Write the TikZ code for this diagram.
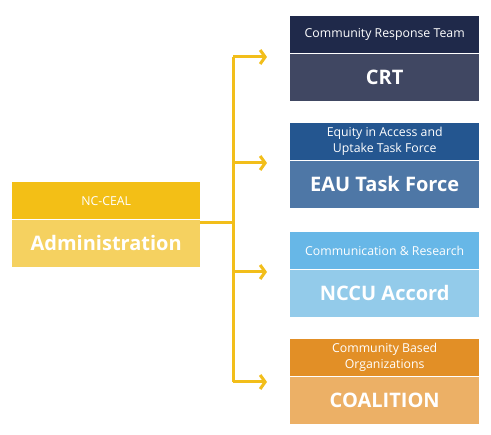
\documentclass[tikz,border=0pt]{standalone}
\usepackage{fontspec}
\setmainfont{Open Sans}
\usetikzlibrary{arrows.meta,positioning}

\definecolor{admA}{HTML}{F3BF16}
\definecolor{admB}{HTML}{F5D160}
\definecolor{crtA}{HTML}{1F294A}
\definecolor{crtB}{HTML}{404762}
\definecolor{eauA}{HTML}{245690}
\definecolor{eauB}{HTML}{4E77A6}
\definecolor{nccA}{HTML}{67B7E7}
\definecolor{nccB}{HTML}{93CBEA}
\definecolor{coaA}{HTML}{E28F26}
\definecolor{coaB}{HTML}{ECB066}
\definecolor{link}{HTML}{F2BE1A}

\begin{document}
\begin{tikzpicture}[x=1pt,y=-1pt,
    head node/.style={rectangle,anchor=north west,inner sep=0pt,minimum width=189pt,minimum height=37pt,
      text=white,align=center,font=\fontsize{12.3}{16}\selectfont},
    body node/.style={rectangle,inner sep=0pt,minimum width=189pt,minimum height=47pt,
      text=white,font=\bfseries\fontsize{20}{24}\selectfont,below=0pt of #1},
    link line/.style={draw=link,line width=3pt},
    link arrow/.style={link line,-{Straight Barb[length=5pt,width=14pt]},shorten >=23pt},
    seam/.style={draw=white,line width=0.6pt,opacity=0.6}]

  \useasboundingbox (0,0) rectangle (491,435);

  \node[head node,fill=admA,minimum width=188pt] (admh) at (12,182) {NC-CEAL};
  \node[body node=admh,fill=admB,minimum width=188pt] (admb) {Administration};

  \node[head node,fill=crtA] (crth) at (290,16) {Community Response Team};
  \node[body node=crth,fill=crtB] (crtb) {CRT};

  \node[head node,fill=eauA] (eauh) at (290,123) {Equity in Access and\\Uptake Task Force};
  \node[body node=eauh,fill=eauB] (eaub) {EAU Task Force};

  \node[head node,fill=nccA] (ncch) at (290,232) {Communication \& Research};
  \node[body node=ncch,fill=nccB] (nccb) {NCCU Accord};

  \node[head node,fill=coaA] (coah) at (290,339) {Community Based\\Organizations};
  \node[body node=coah,fill=coaB] (coab) {COALITION};

  % seams between header and body
  \foreach \n in {adm,crt,eau,ncc,coa}
    \draw[seam] (\n h.south west) -- (\n h.south east);

  % trunk
  \coordinate (top) at (233,57);
  \coordinate (bot) at (233,382);
  \coordinate (join) at (233,223);
  \path[link line] (admb.east |- join) -- (join);
  \path[link line] (top) -- (bot);

  \path[link arrow] (233,57) -- (crtb.west |- top);
  \path[link arrow] (233,163) -- (eaub.west |- 0,163);
  \path[link arrow] (233,272) -- (nccb.west |- 0,272);
  \path[link arrow] (bot) -- (coab.west |- bot);

\end{tikzpicture}
\end{document}
